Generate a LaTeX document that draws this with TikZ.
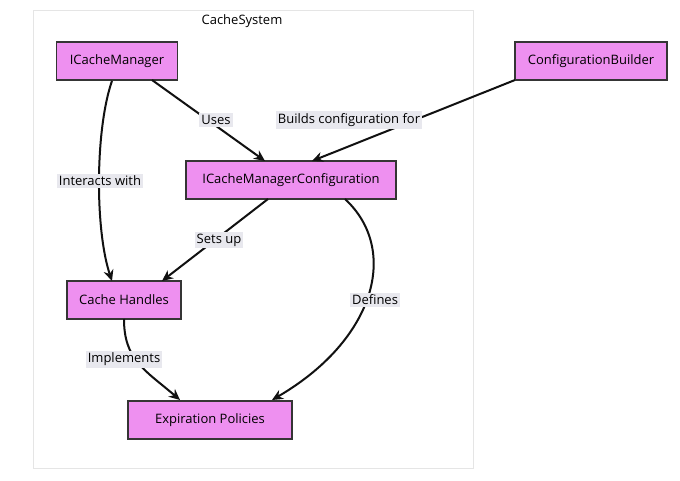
\documentclass[tikz,border=0pt]{standalone}
\usepackage{fontspec}
\setmainfont{Open Sans}
\usetikzlibrary{arrows.meta}
\definecolor{nodefill}{HTML}{EE90F0}
\definecolor{edgec}{HTML}{111111}
\definecolor{lblbg}{HTML}{E8E8EE}
\begin{document}
\begin{tikzpicture}[x=1pt,y=-1pt,
  box/.style={draw=edgec!85,line width=1.6pt,fill=nodefill,minimum height=38pt,inner xsep=8pt,font=\fontsize{13}{15}\selectfont},
  edge/.style={draw=edgec,line width=2pt,-{Stealth[length=11pt,width=10pt]}},
  lbl/.style={fill=lblbg,inner sep=2pt,font=\fontsize{13}{15}\selectfont}]
\useasboundingbox (0,0) rectangle (680,480);
\draw[draw=black!10,fill=white] (33,10) rectangle (473,468);
\node[font=\fontsize{13}{15}\selectfont] (title) at (242,21) {CacheSystem};
\node[box,minimum width=121pt] (icm) at (117,61) {ICacheManager};
\node[box,minimum width=152pt] (cb) at (591,61) {ConfigurationBuilder};
\node[box,minimum width=210pt] (cfg) at (291,180) {ICacheManagerConfiguration};
\node[box,minimum width=114pt] (ch) at (124,300) {Cache Handles};
\node[box,minimum width=164pt] (ep) at (210,420) {Expiration Policies};
\draw[edge] (icm.south) ++(-5,0) coordinate (a) (a) .. controls (95,130) and (95,230) .. (112,281);
\draw[edge] (152,80) -- (265,161);
\draw[edge] (cb.south west) ++(0,0) (515,80) -- (312,161);
\draw[edge] (268,199) -- (162,281);
\draw[edge] (345,199) .. controls (400,250) and (375,340) .. (272,400);
\draw[edge] (124,319) .. controls (124,360) and (145,370) .. (180,400);
\node[lbl] (l1) at (100,181) {Interacts with};
\node[lbl] (l2) at (216,120) {Uses};
\node[lbl] (l3) at (349,120) {Builds configuration for};
\node[lbl] (l4) at (219,240) {Sets up};
\node[lbl] (l5) at (375,300) {Defines};
\node[lbl] (l6) at (124,359) {Implements};
\end{tikzpicture}
\end{document}
